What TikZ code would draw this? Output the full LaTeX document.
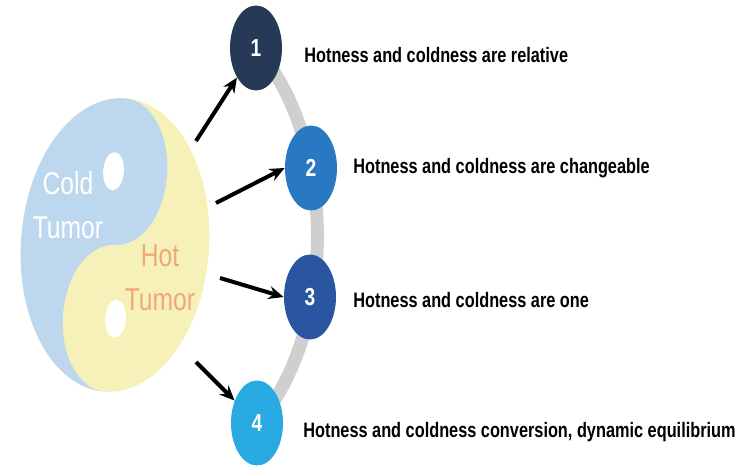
\documentclass[tikz,border=0pt]{standalone}
\usepackage{fontspec}
\setmainfont{Liberation Sans}
\newfontfamily\narrowfont[FakeStretch=0.78]{Liberation Sans}
\usepackage{tikz}
\usetikzlibrary{arrows.meta,shapes.geometric,backgrounds}
\definecolor{coldblue}{HTML}{BDD7EE}
\definecolor{hotyellow}{HTML}{F6F1B9}
\definecolor{hotorange}{HTML}{F0A878}
\definecolor{trackgray}{HTML}{CFCFCF}
\definecolor{stepone}{HTML}{263A57}
\definecolor{steptwo}{HTML}{2B78C2}
\definecolor{stepthree}{HTML}{2A55A0}
\definecolor{stepfour}{HTML}{29A9E1}

\begin{document}
\begin{tikzpicture}[x=0.02cm, y=-0.02cm,
	num/.style={ellipse, minimum width=1.04cm, minimum height=1.7cm, inner sep=0pt, text=white, font=\narrowfont\bfseries\fontsize{14}{16}\selectfont},
	item/.style={anchor=west, inner sep=0pt, font=\narrowfont\bfseries\fontsize{11.9}{14}\selectfont},
	tumor/.style={align=center, inner sep=0pt, font=\narrowfont\fontsize{18}{25}\selectfont},
	arr/.style={line width=0.08cm, -{Stealth[length=0.3cm, width=0.26cm]}}]
			\useasboundingbox (0,0) rectangle (745,470);
			\begin{scope}[shift={(115,245)}, rotate=-4, xscale=94, yscale=147]
				\fill[hotyellow] (0,0) circle[radius=1];
				\fill[coldblue] (0,-1) arc[start angle=-90, end angle=90, radius=0.5]
					arc[start angle=-90, end angle=-270, radius=0.5]
					arc[start angle=90, end angle=270, radius=1] -- cycle;
				\fill[white] (-0.07,-0.5) circle[x radius=0.11, y radius=0.13];
				\fill[white] (0.06,0.5) circle[x radius=0.11, y radius=0.13];
			\end{scope}
			\node[tumor, text=white] (Cold) at (68,205) {Cold\\Tumor};
			\node[tumor, text=hotorange] (Hot) at (160,278) {Hot\\Tumor};
			\node[num, fill=stepone] (N1) at (256,48) {1};
			\node[num, fill=steptwo] (N2) at (311,168) {2};
			\node[num, fill=stepthree] (N3) at (310,297) {3};
			\node[num, fill=stepfour] (N4) at (257,423) {4};
			\node[item] (T1) at (304,55) {Hotness and coldness are relative};
			\node[item] (T2) at (353,168) {Hotness and coldness are changeable};
			\node[item] (T3) at (353,300) {Hotness and coldness are one};
			\node[item] (T4) at (303,432) {Hotness and coldness conversion, dynamic equilibrium};
			\coordinate (S1) at (196,141);
			\coordinate (S2) at (216,203);
			\coordinate (S3) at (220,278);
			\coordinate (S4) at (196,362);
			\begin{scope}[on background layer]
				\draw[trackgray, line width=0.26cm] (N1.center) arc[start angle=-55, end angle=55, x radius=144, y radius=230];
			\end{scope}
			\draw[arr] (S1) -- (N1);
			\draw[arr] (S2) -- (N2.west);
			\draw[arr] (S3) -- (N3.west);
			\draw[arr] (S4) -- (N4);
\end{tikzpicture}
\end{document}
